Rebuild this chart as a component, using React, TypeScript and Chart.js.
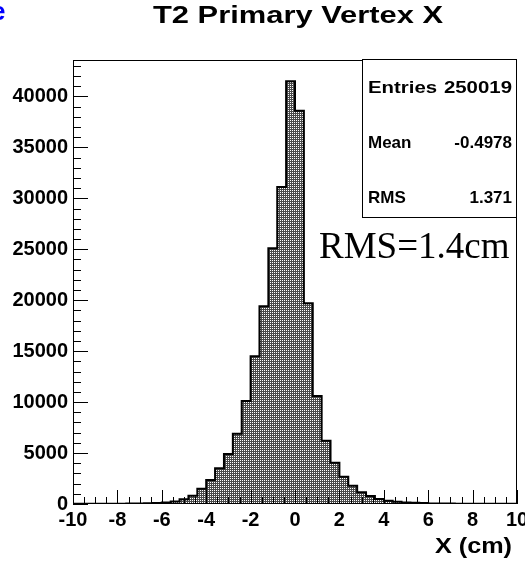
import React, { useEffect, useRef } from 'react';
import { Chart, registerables } from 'chart.js';

Chart.register(...registerables);

// Histogram definition: 50 bins of 0.4 cm from -10 to 10
const X_MIN = -10;
const X_MAX = 10;
const BIN_WIDTH = 0.4;
const binCounts = [
  15, 15, 20, 20, 25, 30, 40, 50, 70, 100,
  150, 250, 460, 810, 1500, 2350, 3500, 4900, 6900, 10100,
  14500, 19400, 25100, 31100, 41500, 38600, 19700, 10600, 6200, 4050,
  2680, 1800, 1150, 780, 500, 330, 230, 150, 120, 90,
  60, 50, 40, 30, 30, 25, 20, 20, 15, 15,
];
const Y_MAX = 43575;
const xTickValues = [-10, -8, -6, -4, -2, 0, 2, 4, 6, 8, 10];
const yTickValues = [0, 5000, 10000, 15000, 20000, 25000, 30000, 35000, 40000];
const statsLabels = ['Entries', 'Mean', 'RMS'];
const statsValues = ['250019', '-0.4978', '1.371'];
const statsStretch = [1.2, 1, 1];
const titleText = 'T2 Primary Vertex X';
const xAxisTitle = 'X (cm)';
const noteText = 'RMS=1.4cm';

const SANS = '"Liberation Sans", Arial, Helvetica, sans-serif';
const SERIF = '"Liberation Serif", "Times New Roman", serif';

function stretchedText(ctx: CanvasRenderingContext2D, text: string, x: number, cy: number, targetW: number, align: 'center' | 'left' | 'right') {
  const w = ctx.measureText(text).width;
  const sx = targetW / w;
  ctx.save();
  ctx.translate(x, cy);
  ctx.scale(sx, 1);
  ctx.textAlign = align;
  ctx.textBaseline = 'middle';
  ctx.fillText(text, 0, 0);
  ctx.restore();
}

const rootStylePlugin = {
  id: 'rootStyle',
  afterDatasetsDraw(chart: any) {
    const { ctx, chartArea: a, scales } = chart;
    const x = scales.x;
    const y = scales.y;
    ctx.save();
    ctx.strokeStyle = '#000';
    ctx.lineWidth = 1;
    // frame
    ctx.strokeRect(a.left + 0.5, a.top + 0.5, a.right - a.left - 1, a.bottom - a.top - 1);
    // x ticks (inside, pointing up)
    ctx.beginPath();
    for (let k = X_MIN * 2; k <= X_MAX * 2; k++) {
      const v = k / 2;
      const px = Math.round(x.getPixelForValue(v)) + 0.5;
      const len = k % 4 === 0 ? 14 : 7;
      ctx.moveTo(px, a.bottom);
      ctx.lineTo(px, a.bottom - len);
    }
    // y ticks (inside, pointing right)
    for (let v = 0; v <= Y_MAX; v += 1000) {
      const py = Math.round(y.getPixelForValue(v)) + 0.5;
      const len = v % 5000 === 0 ? 15 : 8;
      ctx.moveTo(a.left, py);
      ctx.lineTo(a.left + len, py);
    }
    ctx.stroke();

    // stats box
    const bw = 155;
    const bh = 159;
    const bx = a.right - bw;
    const by = a.top - 1;
    ctx.fillStyle = '#fff';
    ctx.fillRect(bx, by, bw, bh);
    ctx.strokeRect(bx + 0.5, by + 0.5, bw - 1, bh - 1);
    ctx.fillStyle = '#000';
    ctx.font = `bold 17px ${SANS}`;
    statsLabels.forEach((lab, i) => {
      const cy = by + 29 + i * 55;
      const s = statsStretch[i];
      stretchedText(ctx, lab, bx + 6, cy, ctx.measureText(lab).width * s, 'left');
      const val = statsValues[i];
      stretchedText(ctx, val, a.right - 5, cy, ctx.measureText(val).width * s, 'right');
    });

    // annotation
    ctx.font = `37px ${SERIF}`;
    ctx.textAlign = 'left';
    ctx.textBaseline = 'alphabetic';
    ctx.fillText(noteText, 319, 258);

    // title
    ctx.font = `bold 24px ${SANS}`;
    stretchedText(ctx, titleText, 298, 16, 290, 'center');

    // x axis title
    ctx.font = `bold 22px ${SANS}`;
    stretchedText(ctx, xAxisTitle, 512, 547, 77, 'right');

    // cropped blue letter at top-left corner (from the slide)
    ctx.fillStyle = '#0000ff';
    ctx.font = `bold 26px ${SANS}`;
    ctx.textAlign = 'left';
    ctx.textBaseline = 'alphabetic';
    ctx.fillText('e', -9, 20);
    ctx.restore();
  },
};

export default function App() {
  const ref = useRef<HTMLCanvasElement | null>(null);
  useEffect(() => {
    const canvas = ref.current;
    if (!canvas) return;
    const pc = document.createElement('canvas');
    pc.width = 2;
    pc.height = 2;
    const pctx = pc.getContext('2d')!;
    pctx.fillStyle = '#4a4a4a';
    pctx.fillRect(0, 0, 2, 2);
    pctx.fillStyle = '#ffffff';
    pctx.fillRect(0, 0, 1, 1);
    const ctx2d = canvas.getContext('2d')!;
    const pattern = ctx2d.createPattern(pc, 'repeat');

    const points = binCounts.map((c, i) => ({ x: X_MIN + i * BIN_WIDTH, y: c }));
    points.push({ x: X_MAX, y: binCounts[binCounts.length - 1] });

    const tickFont = { family: SANS, weight: 'bold' as const, size: 20 };

    const chart = new Chart(canvas, {
      type: 'line',
      data: {
        datasets: [
          {
            data: points,
            stepped: 'before',
            borderColor: '#000',
            borderWidth: 2,
            backgroundColor: pattern as any,
            fill: 'origin',
            pointRadius: 0,
          },
        ],
      },
      options: {
        animation: false,
        responsive: false,
        layout: { padding: { top: 60, right: 8, left: 0, bottom: 0 } },
        plugins: {
          legend: { display: false },
          tooltip: { enabled: false },
          title: { display: false },
        },
        scales: {
          x: {
            type: 'linear',
            min: X_MIN,
            max: X_MAX,
            grid: { display: false, drawTicks: false },
            border: { display: false },
            afterBuildTicks: (s: any) => {
              s.ticks = xTickValues.map((v) => ({ value: v }));
            },
            ticks: {
              font: tickFont,
              color: '#000',
              padding: 4,
              maxRotation: 0,
              autoSkip: false,
              callback: (v: any) => String(v),
            },
            title: { display: false, text: xAxisTitle },
            afterFit: (s: any) => {
              s.height = 58;
              s.paddingLeft = 0;
              s.paddingRight = 0;
            },
          },
          y: {
            type: 'linear',
            min: 0,
            max: Y_MAX,
            grid: { display: false, drawTicks: false },
            border: { display: false },
            afterBuildTicks: (s: any) => {
              s.ticks = yTickValues.map((v) => ({ value: v }));
            },
            ticks: {
              font: tickFont,
              color: '#000',
              padding: 5,
              callback: (v: any) => String(v),
            },
            afterFit: (s: any) => {
              s.width = 73;
              s.paddingTop = 0;
              s.paddingBottom = 0;
            },
          },
        },
      },
      plugins: [rootStylePlugin],
    } as any);
    return () => chart.destroy();
  }, []);

  return (
    <div style={{ position: 'absolute', left: 0, top: 0, width: 525, height: 562, background: '#fff' }}>
      <canvas ref={ref} width={525} height={562} style={{ display: 'block' }} />
    </div>
  );
}
